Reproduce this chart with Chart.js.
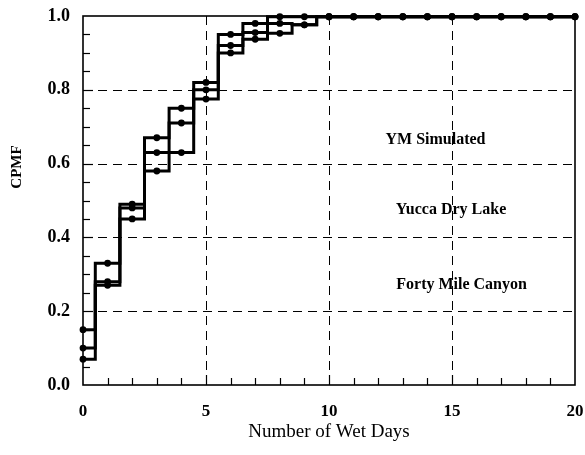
<!DOCTYPE html>
<html>
<head>
<meta charset="utf-8">
<script src="https://cdn.jsdelivr.net/npm/chart.js@4/dist/chart.umd.min.js"></script>
<style>
  html, body { margin: 0; padding: 0; background: #fff; }
  #wrap { width: 585px; height: 455px; }
</style>
</head>
<body>
<div id="wrap"><canvas id="cv" width="585" height="455"></canvas></div>
<script>
const wetDays = [0, 1, 2, 3, 4, 5, 6, 7, 8, 9, 10, 11, 12, 13, 14, 15, 16, 17, 18, 19, 20];
const ymSimulated = [0.15, 0.33, 0.49, 0.67, 0.75, 0.82, 0.95, 0.98, 0.998, 0.998, 0.998, 0.998, 0.998, 0.998, 0.998, 0.998, 0.998, 0.998, 0.998, 0.998, 0.998];
const yuccaDryLake = [0.10, 0.28, 0.48, 0.63, 0.71, 0.80, 0.92, 0.955, 0.98, 0.976, 0.998, 0.998, 0.998, 0.998, 0.998, 0.998, 0.998, 0.998, 0.998, 0.998, 0.998];
const fortyMileCanyon = [0.07, 0.27, 0.45, 0.58, 0.63, 0.775, 0.90, 0.937, 0.953, 0.976, 0.998, 0.998, 0.998, 0.998, 0.998, 0.998, 0.998, 0.998, 0.998, 0.998, 0.998];
const seriesNames = ['YM Simulated', 'Yucca Dry Lake', 'Forty Mile Canyon'];
const labelSpots = [[14.33, 0.664], [14.96, 0.474], [15.39, 0.271]];
const yTitle = 'CPMF';

const serif = '"Liberation Serif", "DejaVu Serif", serif';

function toPoints(ys) {
    return ys.map((y, i) => ({ x: wetDays[i], y: y }));
}

function makeSet(name, ys) {
    return {
        label: name,
        data: toPoints(ys),
        stepped: 'middle',
        borderColor: '#000',
        backgroundColor: '#000',
        borderWidth: 3,
        pointRadius: 3.4,
        pointBorderWidth: 0,
        clip: false,
        fill: false
    };
}

// frame, inward minor ticks, dashed grid and series labels
const decor = {
    id: 'decor',
    beforeDatasetsDraw(chart) {
        const ctx = chart.ctx;
        const a = chart.chartArea;
        const xs = chart.scales.x, ys = chart.scales.y;
        ctx.save();
        ctx.strokeStyle = '#000';
        ctx.lineWidth = 1;
        ctx.setLineDash([9, 6]);
        for (let v = 5; v < 20; v += 5) {
            const px = Math.round(xs.getPixelForValue(v)) + 0.5;
            ctx.beginPath(); ctx.moveTo(px, a.top); ctx.lineTo(px, a.bottom); ctx.stroke();
        }
        for (let v = 0.2; v < 0.99; v += 0.2) {
            const py = Math.round(ys.getPixelForValue(v)) + 0.5;
            ctx.beginPath(); ctx.moveTo(a.left, py); ctx.lineTo(a.right, py); ctx.stroke();
        }
        ctx.setLineDash([]);
        ctx.lineWidth = 1.2;
        for (let v = 1; v < 20; v++) {
            const px = Math.round(xs.getPixelForValue(v)) + 0.5;
            const len = v % 5 === 0 ? 10 : 7;
            ctx.beginPath(); ctx.moveTo(px, a.bottom); ctx.lineTo(px, a.bottom - len); ctx.stroke();
        }
        for (let i = 1; i < 20; i++) {
            const py = Math.round(ys.getPixelForValue(i * 0.05)) + 0.5;
            const len = i % 4 === 0 ? 10 : 7;
            ctx.beginPath(); ctx.moveTo(a.left, py); ctx.lineTo(a.left + len, py); ctx.stroke();
        }
        ctx.lineWidth = 1.6;
        ctx.strokeRect(a.left, a.top, a.right - a.left, a.bottom - a.top);
        ctx.restore();
    },
    afterDatasetsDraw(chart) {
        const ctx = chart.ctx;
        const xs = chart.scales.x, ys = chart.scales.y;
        ctx.save();
        ctx.fillStyle = '#000';
        ctx.font = 'bold 16px ' + serif;
        ctx.textAlign = 'center';
        ctx.textBaseline = 'middle';
        seriesNames.forEach((n, i) => {
            ctx.fillText(n, xs.getPixelForValue(labelSpots[i][0]), ys.getPixelForValue(labelSpots[i][1]));
        });
        // y title sits above the axis centre in the original
        ctx.font = 'bold 15px ' + serif;
        ctx.translate(17, 167);
        ctx.rotate(-Math.PI / 2);
        ctx.fillText(yTitle, 0, 0);
        ctx.restore();
    }
};

function noOverhang(scale) {
    scale.paddingTop = 0;
    scale.paddingBottom = 0;
    scale.paddingLeft = 0;
    scale.paddingRight = 0;
}

new Chart(document.getElementById('cv'), {
    type: 'line',
    plugins: [decor],
    data: {
        datasets: [
            makeSet(seriesNames[0], ymSimulated),
            makeSet(seriesNames[1], yuccaDryLake),
            makeSet(seriesNames[2], fortyMileCanyon)
        ]
    },
    options: {
        responsive: false,
        animation: false,
        layout: { padding: { left: 0, right: 10, top: 16, bottom: 0 } },
        plugins: {
            legend: { display: false },
            tooltip: { enabled: false }
        },
        scales: {
            x: {
                type: 'linear',
                min: 0,
                max: 20,
                grid: { display: false },
                border: { display: false },
                ticks: {
                    stepSize: 5,
                    color: '#000',
                    padding: 8,
                    font: { family: serif, size: 17, weight: 'bold' }
                },
                title: {
                    display: true,
                    text: 'Number of Wet Days',
                    color: '#000',
                    padding: { top: 4, bottom: 12 },
                    font: { family: serif, size: 19 }
                },
                afterFit(scale) { noOverhang(scale); scale.height = 70; }
            },
            y: {
                min: 0,
                max: 1,
                grid: { display: false },
                border: { display: false },
                ticks: {
                    stepSize: 0.2,
                    color: '#000',
                    padding: 5,
                    font: { family: serif, size: 18, weight: 'bold' },
                    callback: v => v.toFixed(1)
                },
                afterFit(scale) { noOverhang(scale); scale.width = 83; }
            }
        }
    }
});
</script>
</body>
</html>
